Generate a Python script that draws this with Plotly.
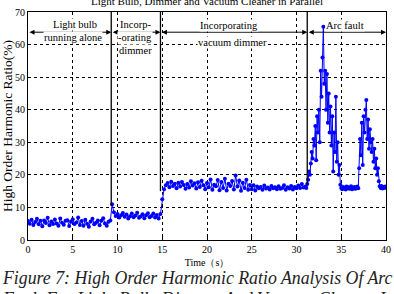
import plotly.graph_objects as go

# ---- data ----
# segment 1: 0 .. 30.8 s, step 0.2 s
t_base = [round(i * 0.2, 1) for i in range(155)]
v_base = [
    5.8, 5.0, 6.2, 4.6, 5.5,
    6.5, 4.8, 5.9, 4.2, 6.0,
    5.2, 6.8, 4.5, 5.7, 4.9,
    6.3, 5.1, 4.4, 6.6, 5.3,
    4.7, 5.9, 6.1, 4.3, 5.6,
    6.4, 4.9, 5.4, 6.9, 4.6,
    5.8, 4.4, 6.2, 5.0, 4.1,
    5.7, 6.5, 4.8, 5.3, 6.0,
    4.5, 5.9, 6.7, 5.1, 4.4,
    5.6, 6.0, 11.0, 8.5, 7.4,
    8.0, 6.9, 7.6, 8.3, 7.1,
    7.8, 6.6, 7.3, 8.1, 7.0,
    7.5, 8.4, 6.8, 7.2, 7.9,
    6.7, 7.6, 8.2, 7.0, 7.4,
    8.1, 6.9, 7.7, 6.6, 8.0,
    12.5, 15.6, 16.8, 17.5, 16.2,
    17.9, 16.6, 17.3, 15.9, 17.6,
    16.4, 17.8, 16.9, 15.7, 17.2,
    16.1, 18.0, 16.7, 17.4, 15.8,
    17.7, 16.3, 18.2, 16.8, 15.6,
    17.5, 16.2, 18.6, 15.4, 17.0,
    16.5, 18.4, 15.3, 17.8, 16.0,
    18.8, 15.2, 17.3, 16.6, 18.1,
    15.5, 19.8, 16.4, 18.3, 15.1,
    17.6, 16.0, 18.5, 15.4, 16.9,
    15.6, 16.8, 15.2, 16.4, 15.9,
    16.3, 15.4, 16.7, 15.8, 16.1,
    15.5, 16.6, 15.9, 16.2, 15.6,
    16.5, 15.7, 16.0, 16.8, 15.4,
    16.2, 15.8, 16.6, 15.5, 16.3,
    15.9, 16.7, 16.0, 17.2, 16.1,
]
# segment 2: 31.0 .. 40.0 s, step 0.1 s (arc fault region)
t_arc = [round(31.0 + i * 0.1, 1) for i in range(91)]
v_arc = [
    16.4, 16.0, 17.2, 18.5, 21.0, 20.0, 23.5, 27.0, 25.0, 31.0,
    29.0, 35.0, 24.5, 38.0, 33.0, 40.0, 30.0, 52.0, 44.0, 56.0,
    65.5, 48.0, 52.0, 40.0, 51.0, 36.0, 45.0, 33.0, 41.0, 29.0,
    38.0, 21.0, 33.0, 27.0, 44.0, 24.0, 30.0, 20.0, 23.0, 17.0,
    16.0, 15.6, 16.3, 15.8, 16.1, 15.5, 16.4, 15.9, 16.2, 15.7,
    16.0, 16.5, 15.6, 16.1, 15.8, 16.3, 15.7, 16.0, 16.4, 15.9,
    22.0, 31.0, 26.0, 36.0, 23.0, 38.0, 33.0, 40.0, 43.0, 31.0,
    37.0, 28.0, 34.0, 30.0, 27.0, 31.0, 24.0, 28.0, 22.0, 25.0,
    20.0, 22.0, 18.0, 16.5, 16.0, 16.6, 15.8, 16.3, 16.0, 16.4,
    16.1,
]
time = t_base + t_arc
ratio = v_base + v_arc

boundaries = [0, 9.3, 14.8, 31.2, 40]
boundary_low = [10.5, 15.0, 17.0]
x_ticks = [0, 5, 10, 15, 20, 25, 30, 35, 40]
y_ticks = [0, 10, 20, 30, 40, 50, 60, 70]

FONT = "Liberation Serif"

fig = go.Figure()
fig.add_trace(go.Scatter(
    x=time, y=ratio, mode="lines+markers",
    line=dict(color="#0000FF", width=1),
    marker=dict(color="#0000FF", size=4),
    showlegend=False,
))

shapes = []
for b, lo in zip(boundaries[1:4], boundary_low):
    shapes.append(dict(type="line", xref="x", yref="y", x0=b, x1=b, y0=lo, y1=70,
                       line=dict(color="black", width=1.3)))

ann = []
arrow_y = 63.8
for a, b in zip(boundaries[:-1], boundaries[1:]):
    ann.append(dict(x=b, y=arrow_y, ax=a, ay=arrow_y, xref="x", yref="y", axref="x", ayref="y",
                    text="", showarrow=True, arrowside="end+start", arrowhead=2,
                    arrowsize=1, arrowwidth=1, arrowcolor="black"))

labels = [
    ("Light bulb", 5.2, 66.3),
    ("running alone", 5.0, 62.3),
    ("Incorp-", 12.0, 66.3),
    ("-orating", 12.0, 62.3),
    ("dimmer", 12.0, 58.2),
    ("Incorporating", 22.5, 65.8),
    ("vacuum dimmer", 22.9, 60.6),
    ("Arc fault", 35.45, 65.9),
]
for txt, x, y in labels:
    ann.append(dict(x=x, y=y, xref="x", yref="y", text=txt, showarrow=False,
                    bgcolor="white", borderpad=0,
                    font=dict(family=FONT, size=10.5, color="black")))

ann.append(dict(x=0.5, y=1.05, xref="paper", yref="paper", text="Light Bulb, Dimmer and Vacuum Cleaner in Parallel",
                showarrow=False, yanchor="middle", font=dict(family=FONT, size=11, color="black")))
ann.append(dict(x=-28/363, y=-38/228, xref="paper", yref="paper", xanchor="left", yanchor="middle",
                text="Figure 7: High Order Harmonic Ratio Analysis Of Arc",
                showarrow=False, font=dict(family=FONT, size=17.8, color="#222", style="italic")))
ann.append(dict(x=-28/363, y=-59/228, xref="paper", yref="paper", xanchor="left", yanchor="middle",
                text="Fault For Light Bulb, Dimmer And Vacuum Cleaner In Parallel",
                showarrow=False, font=dict(family=FONT, size=17.8, color="#222", style="italic")))

axis_common = dict(showline=True, linecolor="black", linewidth=1, mirror=True,
                   ticks="inside", ticklen=3, tickcolor="black",
                   showgrid=True, gridcolor="black", gridwidth=0.8, griddash="3px,3px",
                   zeroline=False, tickfont=dict(family=FONT, size=10, color="black"),
                   ticklabeloverflow="allow")

fig.update_layout(
    width=394, height=294,
    margin=dict(l=28, r=3, t=12, b=54),
    paper_bgcolor="white", plot_bgcolor="white",
    xaxis=dict(range=[0, 40], tickvals=x_ticks, ticktext=[str(v) for v in x_ticks],
               title=dict(text="Time（s）", font=dict(family=FONT, size=10, color="black"), standoff=4),
               **axis_common),
    yaxis=dict(range=[0, 70], tickvals=y_ticks, ticktext=[str(v) for v in y_ticks],
               title=dict(text="High Order Harmonic Ratio(%)", font=dict(family=FONT, size=13.5, color="black"), standoff=0),
               **axis_common),
    shapes=shapes,
    annotations=ann,
)

fig.write_html("out.html")
